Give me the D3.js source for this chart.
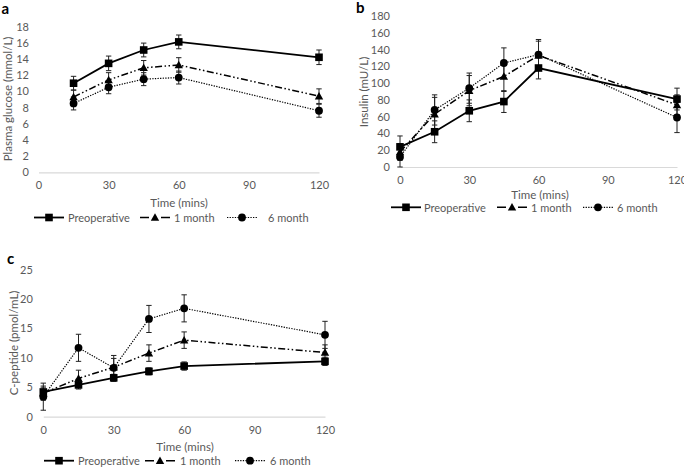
<!DOCTYPE html>
<html><head><meta charset="utf-8">
<script src="https://cdn.jsdelivr.net/npm/d3@7"></script>
<style>
body{margin:0;background:#fff;}
svg{display:block;}
text{font-family:Lato,"Open Sans",sans-serif;}
</style></head>
<body>
<svg id="chart" width="684" height="468"></svg>
<script>
// ---- data ----
const seriesNames = ["Preoperative", "1 month", "6 month"];
const xTicks = [0, 30, 60, 90, 120];

const glucoseTimes = [15, 30, 45, 60, 120];
const glucosePreop = [11.0, 13.45, 15.1, 16.1, 14.2];
const glucosePreopErr = [0.85, 0.9, 0.85, 0.85, 0.9];
const glucose1m = [9.3, 11.4, 12.9, 13.25, 9.4];
const glucose1mErr = [0.85, 0.9, 0.9, 0.9, 0.9];
const glucose6m = [8.5, 10.5, 11.5, 11.7, 7.6];
const glucose6mErr = [0.8, 0.8, 0.8, 0.8, 0.8];
const glucoseYTicks = [0, 2, 4, 6, 8, 10, 12, 14, 16, 18];

const insulinTimes = [0, 15, 30, 45, 60, 120];
const insulinPreop = [24, 42, 67, 78, 118, 81];
const insulinPreopErr = [13, 13, 13, 13, 13, 13];
const insulin1m = [18, 63, 91, 108, 133, 74];
const insulin1mErr = [10, 20, 18, 18, 17, 12];
const insulin6m = [12, 68, 94, 124, 134, 59];
const insulin6mErr = [12, 18, 18, 18, 18, 18];
const insulinYTicks = [0, 20, 40, 60, 80, 100, 120, 140, 160, 180];

const cpepTimes = [0, 15, 30, 45, 60, 120];
const cpepPreop = [4.2, 5.4, 6.6, 7.7, 8.6, 9.4];
const cpepPreopErr = [0.7, 0.7, 0.6, 0.6, 0.7, 0.7];
const cpep1m = [4.0, 6.5, 8.4, 10.8, 13.0, 10.9];
const cpep1mErr = [1.2, 1.4, 1.5, 1.4, 1.4, 1.3];
const cpep6m = [3.4, 11.7, 8.3, 16.6, 18.4, 13.9];
const cpep6mErr = [2.3, 2.3, 2.1, 2.3, 2.3, 2.3];
const cpepYTicks = [0, 5, 10, 15, 20, 25];

// ---- styling ----
const TXT = "#595959";
const styles = [
  {dash: null, width: 1.8, marker: "square"},
  {dash: "7,2.5,1.5,2.5,1.5,2.5", width: 1.5, marker: "triangle"},
  {dash: "1.3,1.3", width: 1.2, marker: "circle"}
];
const legendDash = [null, "9,12,9", "1.3,1.3"];

const svg = d3.select("#chart");

function marker(g, type, x, y) {
  if (type === "square") {
    g.append("rect").attr("x", x - 3.8).attr("y", y - 3.8).attr("width", 7.6).attr("height", 7.6).attr("fill", "#000");
  } else if (type === "triangle") {
    g.append("path").attr("d", `M${x},${y - 4.2}L${x + 4.2},${y + 3.3}L${x - 4.2},${y + 3.3}Z`).attr("fill", "#000");
  } else {
    g.append("circle").attr("cx", x).attr("cy", y).attr("r", 3.9).attr("fill", "#000");
  }
}

function panel(cfg) {
  const g = svg.append("g");
  const x = d3.scaleLinear().domain([0, 120]).range(cfg.xr);
  const y = d3.scaleLinear().domain([0, cfg.ymax]).range(cfg.yr);

  // x axis
  const xa = g.append("g").attr("transform", `translate(0,${cfg.yr[0]})`)
    .call(d3.axisBottom(x).tickValues(xTicks).tickSize(0).tickPadding(cfg.xPad).tickFormat(d3.format("d")));
  xa.select(".domain").attr("stroke", "#d9d9d9").attr("stroke-width", 1.2);
  xa.selectAll("text").attr("fill", TXT).attr("font-size", 11).attr("font-family", "Lato");

  // y axis
  const ya = g.append("g").attr("transform", `translate(${cfg.xr[0]},0)`)
    .call(d3.axisLeft(y).tickValues(cfg.yTicks).tickSize(0).tickPadding(cfg.yPad).tickFormat(d3.format("d")));
  ya.select(".domain").remove();
  ya.selectAll("text").attr("fill", TXT).attr("font-size", 11).attr("font-family", "Lato");

  // titles
  g.append("text").attr("x", cfg.xt[0]).attr("y", cfg.xt[1]).attr("text-anchor", "middle")
    .attr("dominant-baseline", "central").attr("font-size", 11.5).attr("fill", TXT).text("Time (mins)");
  g.append("text").attr("transform", `translate(${cfg.yt[0]},${cfg.yt[1]}) rotate(-90)`)
    .attr("text-anchor", "middle").attr("dominant-baseline", "central")
    .attr("font-size", 11.5).attr("fill", TXT).text(cfg.ylabel);
  g.append("text").attr("x", cfg.letter[0]).attr("y", cfg.letter[1])
    .attr("font-family", "Liberation Sans, Arial, sans-serif").attr("font-weight", "bold")
    .attr("font-size", 15).attr("fill", "#000").text(cfg.letterText);

  const line = d3.line().x(d => x(d.t)).y(d => y(d.v));
  cfg.series.forEach((s, i) => {
    const pts = cfg.times.map((t, k) => ({t, v: s.v[k], e: s.e[k]}));
    const st = styles[i];
    g.append("path").datum(pts).attr("d", line).attr("fill", "none")
      .attr("stroke", "#000").attr("stroke-width", st.width)
      .attr("stroke-dasharray", st.dash);
    // error bars
    pts.forEach(p => {
      const xx = x(p.t), y1 = y(p.v + p.e), y0 = y(Math.max(0, p.v - p.e));
      g.append("line").attr("x1", xx).attr("x2", xx).attr("y1", y1).attr("y2", y0).attr("stroke", "#222").attr("stroke-width", 1);
      g.append("line").attr("x1", xx - 2.7).attr("x2", xx + 2.7).attr("y1", y1).attr("y2", y1).attr("stroke", "#222").attr("stroke-width", 1);
      g.append("line").attr("x1", xx - 2.7).attr("x2", xx + 2.7).attr("y1", y0).attr("y2", y0).attr("stroke", "#222").attr("stroke-width", 1);
    });
  });
  cfg.series.forEach((s, i) => {
    cfg.times.forEach((t, k) => marker(g, styles[i].marker, x(t), y(s.v[k])));
  });

  // legend
  cfg.legend.forEach((L, i) => {
    const ly = cfg.legendY;
    g.append("line").attr("x1", L[0]).attr("x2", L[0] + 30).attr("y1", ly).attr("y2", ly)
      .attr("stroke", "#000").attr("stroke-width", styles[i].width).attr("stroke-dasharray", legendDash[i]);
    marker(g, styles[i].marker, L[0] + 15, ly);
    g.append("text").attr("x", L[1]).attr("y", ly).attr("dominant-baseline", "central")
      .attr("font-size", 11).attr("fill", TXT).text(seriesNames[i]);
  });
}

panel({
  xr: [38.5, 319], yr: [172.3, 26.5], ymax: 18, yTicks: glucoseYTicks,
  xPad: 9, yPad: 9.5, xt: [179, 202], yt: [7, 99], ylabel: "Plasma glucose (mmol/L)",
  letter: [1.5, 13.5], letterText: "a", times: glucoseTimes,
  series: [{v: glucosePreop, e: glucosePreopErr}, {v: glucose1m, e: glucose1mErr}, {v: glucose6m, e: glucose6mErr}],
  legendY: 217.5, legend: [[34, 68], [140, 174], [227, 268]]
});
panel({
  xr: [400, 677], yr: [167, 16], ymax: 180, yTicks: insulinYTicks,
  xPad: 9, yPad: 10, xt: [540, 194], yt: [363, 92], ylabel: "Insulin (mU/L)",
  letter: [356, 13], letterText: "b", times: insulinTimes,
  series: [{v: insulinPreop, e: insulinPreopErr}, {v: insulin1m, e: insulin1mErr}, {v: insulin6m, e: insulin6mErr}],
  legendY: 207.3, legend: [[391, 424], [497, 531], [583, 617]]
});
panel({
  xr: [43.3, 325], yr: [416.7, 269.5], ymax: 25, yTicks: cpepYTicks,
  xPad: 10, yPad: 10.5, xt: [185, 446.7], yt: [13.5, 343], ylabel: "C-peptide (pmol/mL)",
  letter: [7, 264], letterText: "c", times: cpepTimes,
  series: [{v: cpepPreop, e: cpepPreopErr}, {v: cpep1m, e: cpep1mErr}, {v: cpep6m, e: cpep6mErr}],
  legendY: 460.7, legend: [[44, 78], [145, 180], [235, 270]]
});
</script>
</body></html>
